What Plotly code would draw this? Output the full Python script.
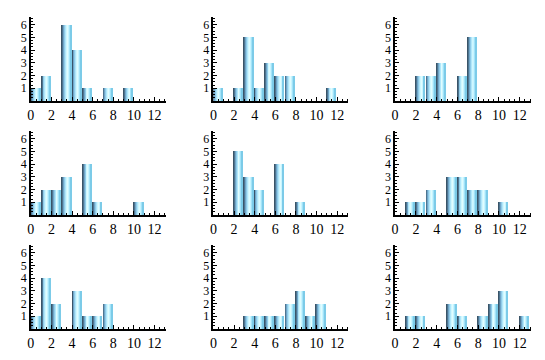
import plotly.graph_objects as go

# ---- data ----
bins = list(range(13))
counts_1 = [1, 2, 0, 6, 4, 1, 0, 1, 0, 1, 0, 0, 0]
counts_2 = [1, 0, 1, 5, 1, 3, 2, 2, 0, 0, 0, 1, 0]
counts_3 = [0, 0, 2, 2, 3, 0, 2, 5, 0, 0, 0, 0, 0]
counts_4 = [1, 2, 2, 3, 0, 4, 1, 0, 0, 0, 1, 0, 0]
counts_5 = [0, 0, 5, 3, 2, 0, 4, 0, 1, 0, 0, 0, 0]
counts_6 = [0, 1, 1, 2, 0, 3, 3, 2, 2, 0, 1, 0, 0]
counts_7 = [1, 4, 2, 0, 3, 1, 1, 2, 0, 0, 0, 0, 0]
counts_8 = [0, 0, 0, 1, 1, 1, 1, 2, 3, 1, 2, 0, 0]
counts_9 = [0, 1, 1, 0, 0, 2, 1, 0, 1, 2, 3, 0, 1]
panels = [counts_1, counts_2, counts_3, counts_4, counts_5,
          counts_6, counts_7, counts_8, counts_9]
x_ticks = [0, 2, 4, 6, 8, 10, 12]
y_ticks = [1, 2, 3, 4, 5, 6]

# ---- style ----
strip_colors = ["#3a5468", "#4e7590", "#6fa5c8", "#8fcbe8", "#b0e6fa",
                "#cff7ff", "#e0fdff", "#c8f4ff", "#a2e3f8", "#7ccbe8"]
bar_w = 0.88
K = len(strip_colors)
sw = bar_w / K

OFF = 8  # default page margin of the html body
W, H = 545 - OFF, 360 - OFF
cols_px = [(27, 163), (211, 347), (394, 531)]
rows_px = [(101, 17), (215, 131), (329, 245)]
col_dom = [((a - OFF) / W, (b - OFF) / W) for a, b in cols_px]
row_dom = [((360 - a) / H, (360 - b) / H) for a, b in rows_px]

fig = go.Figure()
layout = dict(width=W, height=H, margin=dict(l=0, r=0, t=0, b=0),
              paper_bgcolor="white", plot_bgcolor="white", showlegend=False,
              barmode="overlay", bargap=0,
              font=dict(family="Liberation Serif", size=13, color="black"))

for p, counts in enumerate(panels):
    r, c = divmod(p, 3)
    idx = p + 1
    xa = "x" if idx == 1 else f"x{idx}"
    ya = "y" if idx == 1 else f"y{idx}"
    xs = [b for b, v in zip(bins, counts) if v > 0]
    ys = [v for v in counts if v > 0]
    for k, col in enumerate(strip_colors):
        fig.add_trace(go.Bar(
            x=[b + (k + 0.5) * sw for b in xs], y=ys, width=sw * 1.15,
            marker=dict(color=col, line=dict(width=0)),
            xaxis=xa, yaxis=ya, hoverinfo="skip"))
    common = dict(showline=True, linecolor="black", linewidth=1.5,
                  showgrid=False, zeroline=False, ticks="inside",
                  ticklen=4, tickwidth=1, tickcolor="black")
    layout["xaxis" if idx == 1 else f"xaxis{idx}"] = dict(
        domain=list(col_dom[c]), anchor=ya, range=[0, 13.1],
        tickmode="array", tickvals=x_ticks, ticktext=[str(t) for t in x_ticks],
        tickfont=dict(family="Liberation Serif", size=14, color="black"),
        minor=dict(ticks="inside", ticklen=2, tickwidth=1, dtick=0.5, tickcolor="black"),
        **common)
    layout["yaxis" if idx == 1 else f"yaxis{idx}"] = dict(
        domain=list(row_dom[r]), anchor=xa, range=[0, 6.6],
        tickmode="array", tickvals=y_ticks, ticktext=[str(t) for t in y_ticks],
        tickfont=dict(family="Liberation Serif", size=12, color="black"),
        minor=dict(ticks="inside", ticklen=2, tickwidth=1, dtick=0.25, tickcolor="black"),
        **common)

fig.update_layout(**layout)
fig.write_html("out.html")
